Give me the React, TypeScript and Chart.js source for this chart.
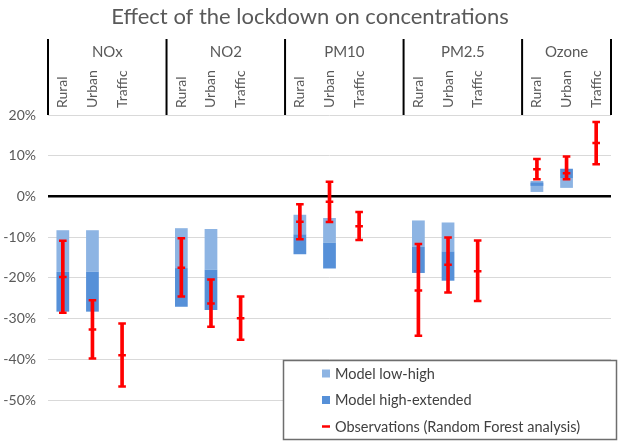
import React, { useEffect, useRef } from "react";
import { Chart, registerables } from "chart.js";

Chart.register(...registerables);

const TITLE = "Effect of the lockdown on concentrations";
const groups = ["NOx", "NO2", "PM10", "PM2.5", "Ozone"];
const groupSizes = [4, 4, 4, 4, 3];
const categories = [
  "Rural", "Urban", "Traffic", "",
  "Rural", "Urban", "Traffic", "",
  "Rural", "Urban", "Traffic", "",
  "Rural", "Urban", "Traffic", "",
  "Rural", "Urban", "Traffic",
];
const yTicks = [20, 10, 0, -10, -20, -30, -40, -50];

// Model low-high (light) ranges [top, bottom] in %
const modelLowHigh: ([number, number] | null)[] = [
  [-8.3, -18.5], [-8.3, -18.5], null, null,
  [-7.8, -17.6], [-8.0, -18.0], null, null,
  [-4.5, -9.3], [-5.3, -11.4], null, null,
  [-5.9, -12.3], [-6.4, -13.5], null, null,
  [1.1, 3.8], [2.1, 4.4], null,
];
// Model high-extended (dark) ranges
const modelHighExt: ([number, number] | null)[] = [
  [-18.5, -28.3], [-18.5, -28.3], null, null,
  [-17.6, -27.1], [-18.0, -27.9], null, null,
  [-9.3, -14.2], [-11.4, -17.7], null, null,
  [-12.3, -18.8], [-13.5, -20.7], null, null,
  [2.6, 3.4], [4.4, 6.8], null,
];
// Observations (Random Forest analysis)
const obsHigh: (number | null)[] = [
  -10.9, -25.5, -31.2, null,
  -10.3, -20.4, -24.6, null,
  -1.9, 3.6, -3.8, null,
  -11.7, -10.1, -10.8, null,
  9.2, 9.8, 18.3,
];
const obsMid: (number | null)[] = [
  -19.8, -32.7, -39.0, null,
  -17.5, -26.3, -29.9, null,
  -6.2, -1.3, -7.3, null,
  -23.1, -16.8, -18.4, null,
  6.7, 5.7, 13.1,
];
const obsLow: (number | null)[] = [
  -28.6, -39.8, -46.7, null,
  -24.6, -32.0, -35.2, null,
  -10.5, -6.3, -10.7, null,
  -34.2, -23.6, -25.7, null,
  4.2, 4.2, 7.9,
];

const FONT = "Lato, 'Noto Sans', sans-serif";
const TEXT = "#595959";
const LIGHT = "#8db4e3";
const DARK = "#5690d8";
const RED = "#ff0000";

const headerPlugin = {
  id: "header",
  afterDraw(chart: any) {
    const ctx = chart.ctx;
    const x = chart.scales.x;
    const area = chart.chartArea;
    ctx.save();
    // title
    ctx.fillStyle = TEXT;
    ctx.font = `22px ${FONT}`;
    ctx.textAlign = "center";
    ctx.textBaseline = "middle";
    ctx.fillText(TITLE, chart.width / 2, 17);
    // group boundaries
    const step = x.getPixelForValue(1) - x.getPixelForValue(0);
    let idx = 0;
    const bounds: number[] = [x.getPixelForValue(0) - step / 2];
    groupSizes.forEach((n) => {
      idx += n;
      bounds.push(x.getPixelForValue(idx - 1) + step / 2);
    });
    ctx.strokeStyle = "#000";
    ctx.lineWidth = 2;
    bounds.forEach((b) => {
      ctx.beginPath();
      ctx.moveTo(b, 39);
      ctx.lineTo(b, area.top);
      ctx.stroke();
    });
    ctx.font = `15px ${FONT}`;
    groups.forEach((g, i) => {
      ctx.fillText(g, (bounds[i] + bounds[i + 1]) / 2, 52);
    });
    // rotated sub-labels
    ctx.font = `14px ${FONT}`;
    categories.forEach((c, i) => {
      if (!c) return;
      ctx.save();
      ctx.translate(x.getPixelForValue(i), 108);
      ctx.rotate(-Math.PI / 2);
      ctx.textAlign = "left";
      ctx.textBaseline = "middle";
      ctx.fillText(c, 0, 0);
      ctx.restore();
    });
    ctx.restore();
  },
};

const legendPlugin = {
  id: "boxLegend",
  afterDraw(chart: any) {
    const ctx = chart.ctx;
    ctx.save();
    ctx.fillStyle = "#fff";
    ctx.fillRect(283.5, 360.5, 333, 79);
    ctx.strokeStyle = "#6e6e6e";
    ctx.lineWidth = 1.5;
    ctx.strokeRect(283.5, 360.5, 333, 79);
    const rows = [
      { label: "Model low-high", color: LIGHT, kind: "box" },
      { label: "Model high-extended", color: DARK, kind: "box" },
      { label: "Observations (Random Forest analysis)", color: RED, kind: "line" },
    ];
    const ys = [373.5, 400, 426.5];
    ctx.font = `14.5px ${FONT}`;
    ctx.textAlign = "left";
    ctx.textBaseline = "middle";
    rows.forEach((r, i) => {
      const y = ys[i];
      if (r.kind === "box") {
        ctx.fillStyle = r.color;
        ctx.fillRect(322, y - 4, 8, 8);
      } else {
        ctx.strokeStyle = r.color;
        ctx.lineWidth = 2.5;
        ctx.beginPath();
        ctx.moveTo(322, y);
        ctx.lineTo(330, y);
        ctx.stroke();
      }
      ctx.fillStyle = "#404040";
      ctx.fillText(r.label, 335, y + 0.5);
    });
    ctx.restore();
  },
};

export default function App() {
  const ref = useRef<HTMLCanvasElement>(null);
  useEffect(() => {
    document.body.style.margin = "0";
    const stems = obsHigh.map((h, i) =>
      h === null || obsLow[i] === null ? null : [obsLow[i], h]
    );
    const capDs = (data: (number | null)[], label: string) => ({
      type: "line" as const,
      label,
      data,
      showLine: false,
      pointStyle: "line",
      pointRadius: 3.8,
      pointHoverRadius: 3.8,
      pointBorderWidth: 2.5,
      borderColor: RED,
      backgroundColor: RED,
      order: 0,
    });
    const chart = new Chart(ref.current!, {
      type: "bar",
      data: {
        labels: categories,
        datasets: [
          {
            label: "Model low-high",
            data: modelLowHigh as any,
            backgroundColor: LIGHT,
            grouped: false,
            barPercentage: 0.43,
            categoryPercentage: 1,
            order: 3,
          },
          {
            label: "Model high-extended",
            data: modelHighExt as any,
            backgroundColor: DARK,
            grouped: false,
            barPercentage: 0.43,
            categoryPercentage: 1,
            order: 2,
          },
          {
            label: "Observations stem",
            data: stems as any,
            backgroundColor: RED,
            grouped: false,
            barThickness: 3,
            order: 1,
          },
          capDs(obsHigh, "obs high") as any,
          capDs(obsMid, "obs mid") as any,
          capDs(obsLow, "obs low") as any,
        ],
      },
      options: {
        animation: false,
        responsive: false,
        maintainAspectRatio: false,
        events: [],
        layout: { padding: { top: 115, bottom: 43, left: 0, right: 9 } },
        plugins: {
          legend: { display: false },
          tooltip: { enabled: false },
          title: { display: false },
        },
        scales: {
          x: {
            type: "category",
            display: false,
            offset: true,
            grid: { display: false },
          },
          y: {
            min: -50,
            max: 20,
            afterFit: (s: any) => {
              s.width = 48;
            },
            afterBuildTicks: (s: any) => {
              s.ticks = yTicks.map((v) => ({ value: v }));
            },
            ticks: {
              color: TEXT,
              font: { size: 14, family: FONT },
              padding: 12,
              callback: (v: any) => `${v}%`,
            },
            border: { display: false },
            grid: {
              drawTicks: false,
              color: (c: any) => (c.tick && c.tick.value === 0 ? "#000" : "#d9d9d9"),
              lineWidth: (c: any) => (c.tick && c.tick.value === 0 ? 2.5 : 1),
            },
          },
        },
      },
      plugins: [headerPlugin, legendPlugin],
    } as any);
    return () => chart.destroy();
  }, []);
  return <canvas ref={ref} width={620} height={443} style={{ display: "block" }} />;
}
